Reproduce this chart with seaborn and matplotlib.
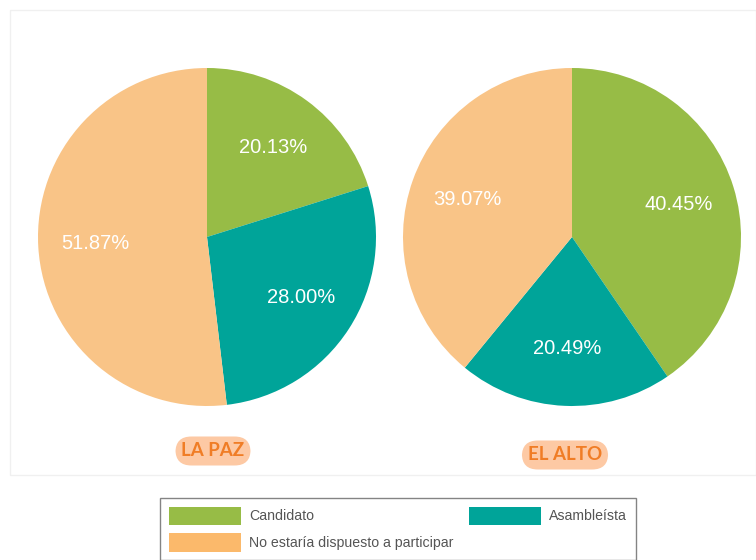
import matplotlib
matplotlib.use('Agg')
import matplotlib.pyplot as plt
import matplotlib.patches as mpatches
import seaborn as sns

# data
categories = ["Candidato", "Asambleísta", "No estaría dispuesto a participar"]
la_paz = [20.13, 28.00, 51.87]
el_alto = [40.45, 20.49, 39.07]
titles = ["LA PAZ", "EL ALTO"]

pie_colors = ["#97bc46", "#00a499", "#f9c487"]
legend_colors = ["#97bc46", "#00a499", "#fbb96b"]

sns.set_theme(style="white")
plt.rcParams['font.family'] = ['Liberation Sans', 'DejaVu Sans']

fig = plt.figure(figsize=(7.56, 5.6), dpi=100)

# faint panel frame behind the pies
fig.patches.append(mpatches.Rectangle((10 / 756, 1 - 475 / 560), 746 / 756, 465 / 560,
                                      transform=fig.transFigure, facecolor="none",
                                      edgecolor="#f0f0f0", linewidth=1, zorder=-1))

axes = [fig.add_axes([38 / 756, 154 / 560, 338 / 756, 338 / 560]),
        fig.add_axes([403 / 756, 154 / 560, 338 / 756, 338 / 560])]

for ax, vals in zip(axes, [la_paz, el_alto]):
    wedges, texts, autotexts = ax.pie(
        vals, colors=pie_colors, startangle=90, counterclock=False,
        autopct=lambda p: f"{p:.2f}%", pctdistance=0.66, radius=1,
        wedgeprops=dict(linewidth=0))
    for t in autotexts:
        t.set_color("white")
        t.set_fontsize(14.5)
    ax.set_xlim(-1, 1)
    ax.set_ylim(-1, 1)
    ax.axis("off")

# city badges
badge_pos = [(213, 451), (565, 455)]
for (x, y), title in zip(badge_pos, titles):
    fig.text(x / 756, 1 - y / 560, title, ha="center", va="center",
             fontsize=13.5, fontweight="bold", color="#f07d26", family=["Lato", "DejaVu Sans"],
             bbox=dict(boxstyle="round,pad=0.32,rounding_size=0.85",
                       facecolor="#fdc9a4", edgecolor="none"))

# legend (order so that Asambleísta sits in the second column)
order = [0, 2, 1]
handles = [mpatches.Patch(facecolor=legend_colors[i], edgecolor="none", label=categories[i])
           for i in order]
leg = fig.legend(handles=handles, loc="upper left",
                 bbox_to_anchor=(160 / 756, 1 - 498 / 560),
                 ncol=2, fontsize=10.2, frameon=True, fancybox=False,
                 handlelength=5.1, handleheight=1.65, handletextpad=0.6,
                 borderpad=0.6, labelspacing=0.55, columnspacing=1.05, borderaxespad=0)
leg.get_frame().set_edgecolor("#666666")
leg.get_frame().set_linewidth(1)
for t in leg.get_texts():
    t.set_color("#555555")

fig.savefig("out.png", dpi=100)
